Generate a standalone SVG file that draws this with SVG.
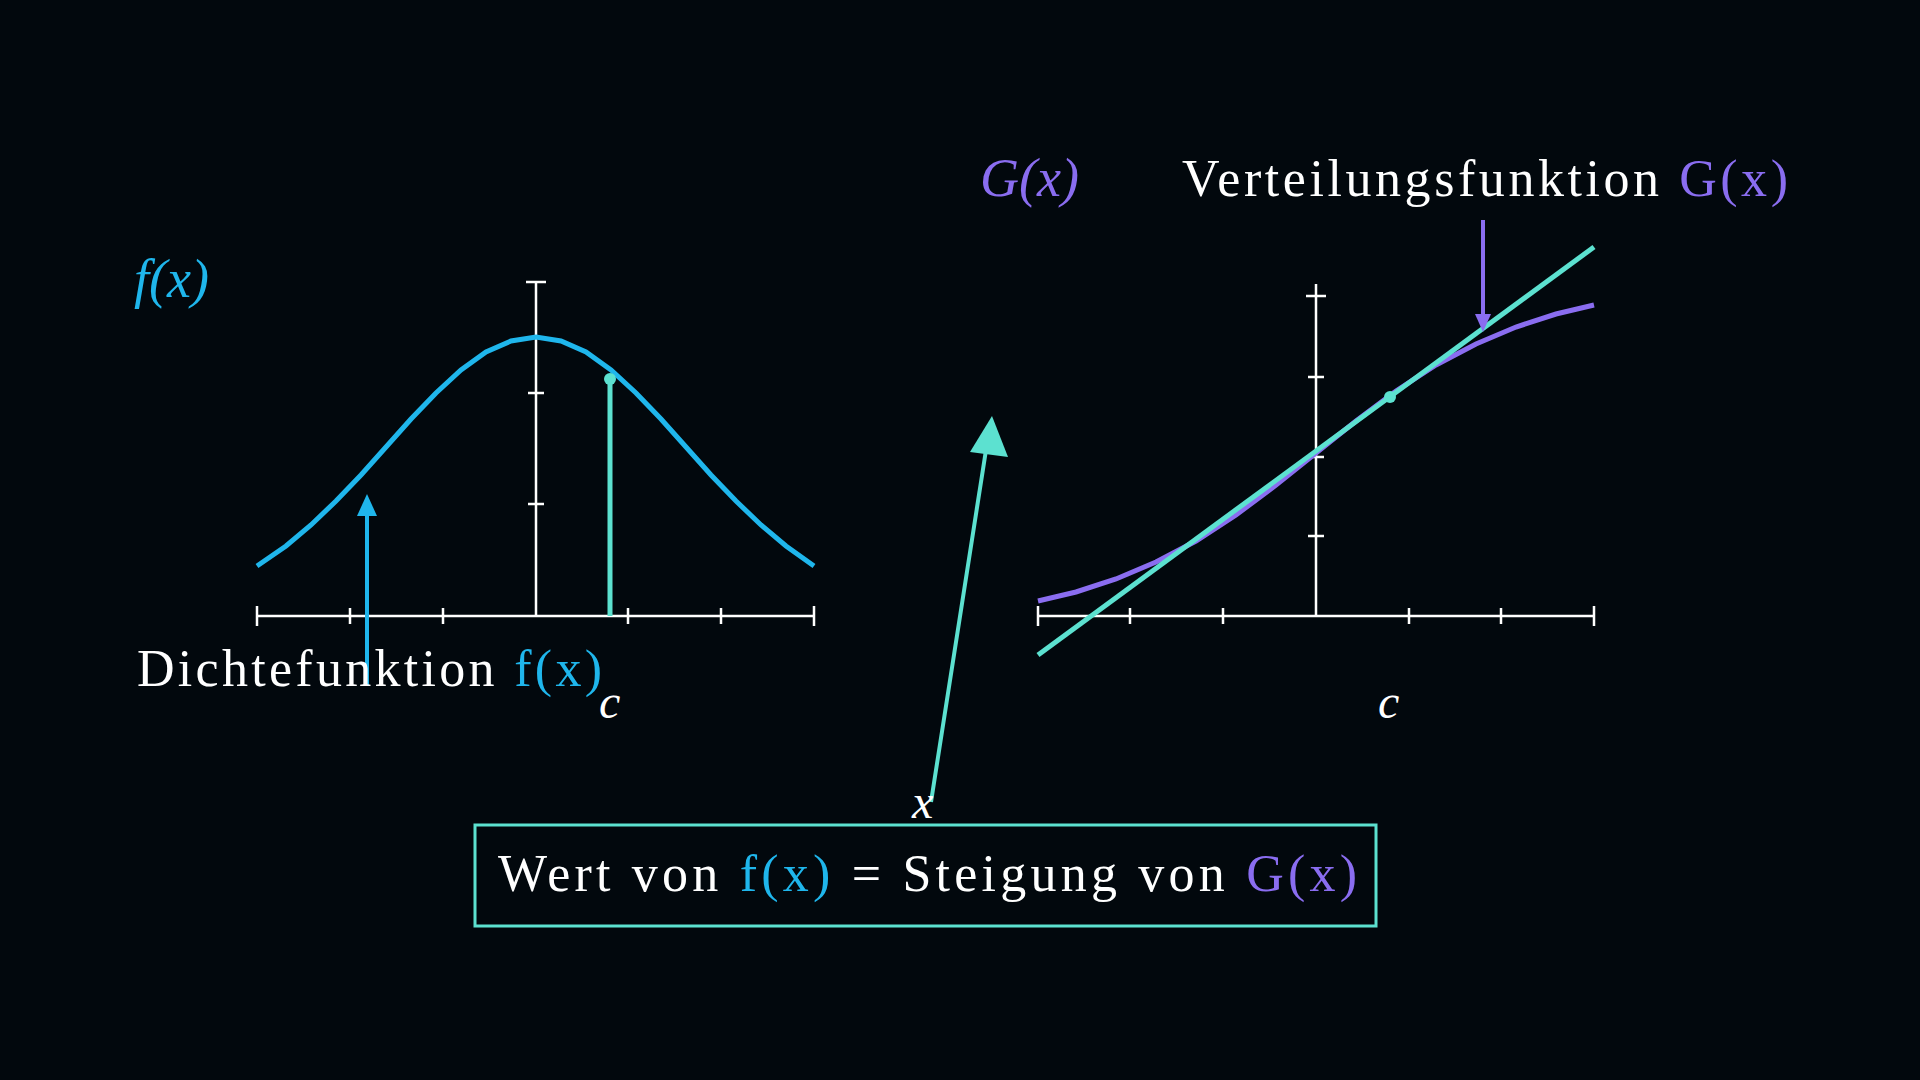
<svg xmlns="http://www.w3.org/2000/svg" width="1920" height="1080" viewBox="0 0 1920 1080">
<defs>
<style>
.ax{stroke:#ffffff;stroke-width:2.5;fill:none}
.t{font-family:"Liberation Serif","DejaVu Serif",serif;fill:#ffffff}
.i{font-style:italic}
.b{fill:#1fb6ec}.p{fill:#8a6df0}
</style>
<marker id="ab" markerWidth="8" markerHeight="8" refX="4" refY="4" orient="auto" markerUnits="userSpaceOnUse" viewBox="0 0 8 8"><path d="M0,0L8,4L0,8z" fill="#1fb6ec"/></marker>
</defs>
<rect width="1920" height="1080" fill="#02080d"/>
<g id="left-axes" class="ax">
<path d="M257,616H814M536,616V282M257,606v20M350,608v16M443,608v16M628,608v16M721,608v16M814,606v20M526,282h20M528,393h16M528,504h16"/>
</g>
<g id="density-curve">
<polyline fill="none" stroke="#1fb6ec" stroke-width="5" points="257,566 286,546 311,525 336,501 361,475 386,447 411,419 436,393 461,370 486,352 511,341 536,337 561,341 586,352 611,370 636,393 661,419 686,447 711,475 736,501 761,525 786,546 814,566"/>
<line x1="610" y1="379" x2="610" y2="616" stroke="#5ce1d0" stroke-width="5"/>
<circle cx="610" cy="379" r="6" fill="#5ce1d0"/>
</g>
<g id="right-axes" class="ax">
<path d="M1038,616H1594M1316,616V284M1038,606v20M1130,608v16M1223,608v16M1409,608v16M1501,608v16M1594,606v20M1306,296h20M1308,377h16M1308,457h16M1308,536h16"/>
</g>
<g id="cdf-curve">
<polyline fill="none" stroke="#8a6df0" stroke-width="5" points="1038,601 1076,592 1116,579 1156,562 1196,541 1236,515 1276,485 1316,453 1356,421 1396,391 1436,365 1476,344 1516,327 1556,314 1594,305"/>
<line x1="1038" y1="655" x2="1594" y2="247" stroke="#5ce1d0" stroke-width="5"/>
<circle cx="1390" cy="397" r="6" fill="#5ce1d0"/>
</g>
<g id="connectors">
<line x1="367" y1="686" x2="367" y2="514" stroke="#1fb6ec" stroke-width="4"/>
<path d="M367,494L377,516H357z" fill="#1fb6ec"/>
<line x1="1483" y1="220" x2="1483" y2="318" stroke="#8a6df0" stroke-width="4"/>
<path d="M1483,332L1475,314H1491z" fill="#8a6df0"/>
<line x1="931" y1="802" x2="986" y2="450" stroke="#5ce1d0" stroke-width="4"/>
<path d="M992,416L1008,457L970,452z" fill="#5ce1d0"/>
</g>
<g id="labels">
<text class="t i b" x="134" y="297" font-size="54">f(x)</text>
<text class="t" x="137" y="686" font-size="52" textLength="465">Dichtefunktion <tspan class="b">f(x)</tspan></text>
<text class="t i" x="599" y="718" font-size="48">c</text>
<text class="t i p" x="980" y="196" font-size="54">G(x)</text>
<text class="t" x="1182" y="196" font-size="52" textLength="606">Verteilungsfunktion <tspan class="p">G(x)</tspan></text>
<text class="t i" x="1378" y="718" font-size="48">c</text>
<text class="t i" x="912" y="818" font-size="48">x</text>
</g>
<g id="formula-box">
<rect x="475" y="825" width="901" height="101" fill="none" stroke="#5ce1d0" stroke-width="3"/>
<text class="t" x="498" y="891" font-size="52" textLength="859">Wert von <tspan class="b">f(x)</tspan> = Steigung von <tspan class="p">G(x)</tspan></text>
</g>
</svg>
